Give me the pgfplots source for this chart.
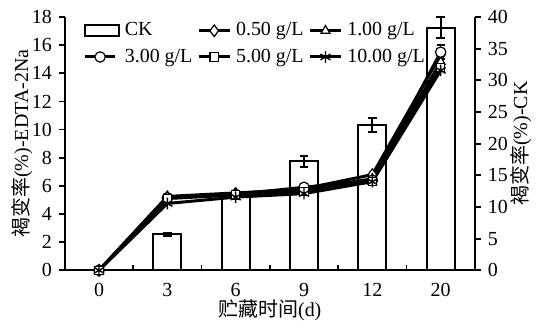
\documentclass[border=0pt]{standalone}
\usepackage{fontspec}
\setmainfont{Liberation Serif}
\newfontfamily\cjk{Noto Sans CJK SC}
\usepackage{pgfplots}
\pgfplotsset{compat=1.18}
\pgfplotstableread{
x y e
1 5.67 0.3
2 11.8 0.3
3 17.2 0.85
4 23.0 1.1
5 38.3 1.7
}\barsdata
\begin{document}
\begin{tikzpicture}
\pgfplotsset{
 base/.style={
  scale only axis, width=205.5pt, height=127pt,
  xmin=-0.5, xmax=5.5,
  font=\fontsize{10}{11.5}\selectfont,
  /pgf/number format/assume math mode=true,
  axis line style={line width=1pt},
  every tick/.style={line width=0.9pt, black},
  major tick length=3pt,
  tick align=outside,
  clip=false,
 },
 ln/.style={black, line width=1.5pt, mark size=2.6pt, mark options={fill=white, line width=0.6pt, solid}},
}
% bars, right axis
\begin{axis}[base, name=bars,
  axis x line*=bottom, axis y line*=right,
  ymin=0, ymax=40, ytick={0,5,...,40},
  xtick={0,...,5}, xticklabels={0,3,6,9,12,20},
  x tick style={draw=none},
  every axis y label/.style={at={(axis description cs:1.112,0.5)}, rotate=90, anchor=center},
  ylabel={{\cjk 褐变率}(\%)-CK},
  every axis x label/.style={at={(axis description cs:0.5,0)}, yshift=-20pt, anchor=center},
  xlabel={{\cjk 贮藏时间}(d)},
]
\addplot[ybar, bar width=14pt, fill=white, draw=black, line width=1pt,
  error bars/.cd, y dir=both, y explicit,
  error bar style={line width=1pt, black},
  error mark options={rotate=90, mark size=2.2pt, line width=1pt, black}]
  table[x=x, y=y, y error=e] {\barsdata};
\end{axis}
% inside x ticks
\begin{axis}[base,
  axis x line*=bottom, axis y line=none,
  ymin=0, ymax=18,
  xtick={0.5,1.5,2.5,3.5,4.5}, xticklabels={},
  tick align=inside, major tick length=2.5pt,
]
\end{axis}
% lines, left axis
\begin{axis}[base,
  axis x line=none, axis y line*=left,
  ymin=0, ymax=18, ytick={0,2,...,18},
  every axis y label/.style={at={(axis description cs:-0.105,0.5)}, rotate=90, anchor=center},
  ylabel={{\cjk 褐变率}(\%)-EDTA-2Na},
  legend style={at={(axis description cs:0.044,0.995)}, anchor=north west, draw=none, fill=none,
    font=\fontsize{10}{11.5}\selectfont, column sep=0.5pt, row sep=1pt, inner sep=0pt},
  legend columns=3,
  legend cell align=left,
  legend image code/.code={\draw[mark repeat=2,mark phase=2] plot coordinates {(0cm,0cm)(0.27cm,0cm)(0.54cm,0cm)};},
]
\addlegendimage{legend image code/.code={\draw[fill=white, draw=black, line width=1pt] (0cm,-0.1cm) rectangle (0.6cm,0.1cm);}}
\addlegendentry{CK}
\addplot[ln, mark=diamond*, mark size=2.9pt] coordinates {(0,0) (1,5.2) (2,5.45) (3,5.8) (4,6.8) (5,15.3)};
\addlegendentry{0.50 g/L}
\addplot[ln, mark=triangle*] coordinates {(0,0) (1,5.25) (2,5.5) (3,5.75) (4,6.5) (5,14.8)};
\addlegendentry{1.00 g/L}
\addplot[ln, mark=*, error bars/.cd, y dir=both, y explicit, error bar style={line width=0.8pt}, error mark options={rotate=90, mark size=2pt, line width=0.8pt}]
  coordinates {(0,0) +- (0,0) (1,5.15) +- (0,0.1) (2,5.4) +- (0,0.1) (3,5.9) +- (0,0.15) (4,6.4) +- (0,0.2) (5,15.5) +- (0,0.5)};
\addlegendentry{3.00 g/L}
\addplot[ln, mark=square*, mark size=2.1pt] coordinates {(0,0) (1,5.1) (2,5.35) (3,5.6) (4,6.3) (5,14.4)};
\addlegendentry{5.00 g/L}
\addplot[ln, mark=asterisk, mark size=2.9pt, mark options={line width=0.7pt}] coordinates {(0,0) (1,4.75) (2,5.2) (3,5.45) (4,6.3) (5,14.2)};
\addlegendentry{10.00 g/L}
\end{axis}
\useasboundingbox ([xshift=-32.5pt,yshift=-25pt]bars.south west) rectangle ([xshift=31pt,yshift=8.5pt]bars.north east);
\end{tikzpicture}
\end{document}
